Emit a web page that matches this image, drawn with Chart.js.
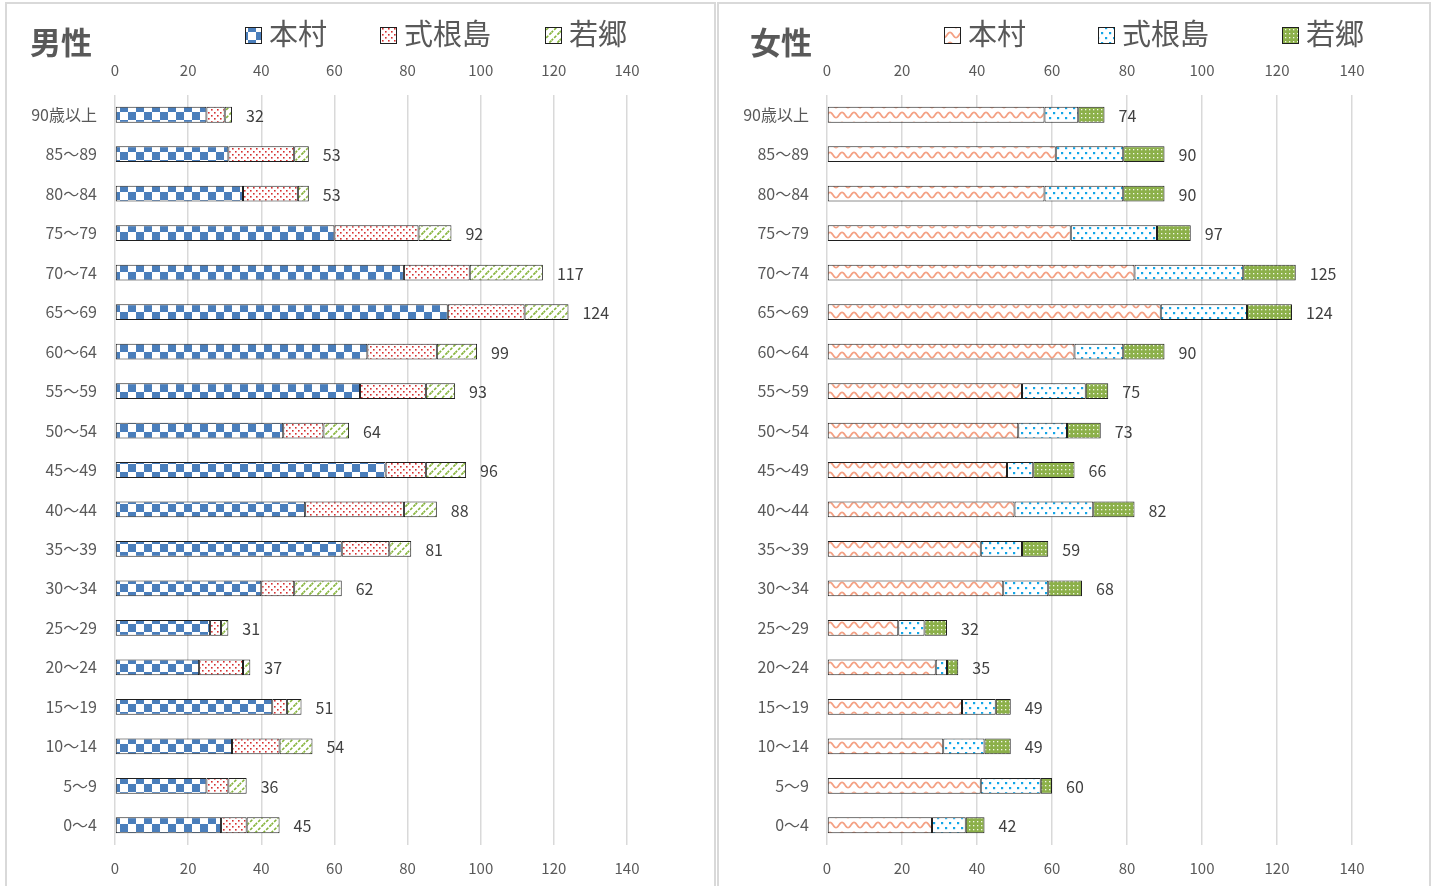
<!DOCTYPE html>
<html><head><meta charset="utf-8">
<script src="https://cdn.jsdelivr.net/npm/chart.js@4/dist/chart.umd.min.js"></script>
<style>
html,body{margin:0;padding:0;background:#fff;width:1435px;height:886px;overflow:hidden}
.panel{position:absolute;top:2px;height:900px;border:2px solid #d9d9d9;box-sizing:border-box;background:#fff}
canvas{position:absolute;top:0}
</style></head><body>
<div class="panel" style="left:5px;width:711px"></div>
<div class="panel" style="left:717px;width:714px"></div>
<canvas id="male" width="716" height="886" style="left:0"></canvas>
<canvas id="female" width="719" height="886" style="left:716px"></canvas>
<script>
// ---- data ----
const categories = ['90歳以上','85～89','80～84','75～79','70～74','65～69','60～64','55～59','50～54','45～49','40～44','35～39','30～34','25～29','20～24','15～19','10～14','5～9','0～4'];
const seriesNames = ['本村','式根島','若郷'];
const xTicks = [0,20,40,60,80,100,120,140];

const maleHonson   = [25,31,35,60,79,91,69,67,46,74,52,62,40,26,23,43,32,25,29];
const maleShikine  = [5,18,15,23,18,21,19,18,11,11,27,13,9,3,12,4,13,6,7];
const maleWakago   = [2,4,3,9,20,12,11,8,7,11,9,6,13,2,2,4,9,5,9];
const maleTotals   = [32,53,53,92,117,124,99,93,64,96,88,81,62,31,37,51,54,36,45];

const femaleHonson  = [58,61,58,65,82,89,66,52,51,48,50,41,47,19,29,36,31,41,28];
const femaleShikine = [9,18,21,23,29,23,13,17,13,7,21,11,12,7,3,9,11,16,9];
const femaleWakago  = [7,11,11,9,14,12,11,6,9,11,11,7,9,6,3,4,7,3,5];
const femaleTotals  = [74,90,90,97,125,124,90,75,73,66,82,59,68,32,35,49,49,60,42];

// ---- patterns ----
function tile(w,h,draw){
  const c=document.createElement('canvas');c.width=w;c.height=h;
  const g=c.getContext('2d');draw(g,w,h);
  return document.getElementById('male').getContext('2d').createPattern(c,'repeat');
}
const pCheck = tile(16,16,(g)=>{g.fillStyle='#fff';g.fillRect(0,0,16,16);g.fillStyle='#4a7ebb';g.fillRect(0,0,8,8);g.fillRect(8,8,8,8);});
const pRedDots = tile(6,6,(g)=>{g.fillStyle='#fff';g.fillRect(0,0,6,6);g.fillStyle='#d63030';g.fillRect(1,1,1.6,1.6);g.fillRect(4,4,1.6,1.6);});
const pDiag = tile(8,8,(g)=>{g.fillStyle='#fff';g.fillRect(0,0,8,8);g.strokeStyle='#86b43c';g.lineWidth=1.6;g.setLineDash([3,1.5]);
  g.beginPath();g.moveTo(-1,9);g.lineTo(9,-1);g.stroke();g.beginPath();g.moveTo(-1,1);g.lineTo(1,-1);g.stroke();g.beginPath();g.moveTo(7,9);g.lineTo(9,7);g.stroke();});
const pWave = tile(12,10,(g)=>{g.fillStyle='#fff';g.fillRect(0,0,12,10);g.strokeStyle='#f4a184';g.lineWidth=1.8;g.beginPath();
  for(let x=-1;x<=13;x+=0.5){const y=5+2.6*Math.cos(2*Math.PI*x/12);if(x===-1)g.moveTo(x,y);else g.lineTo(x,y);}g.stroke();});
const pCyanDots = tile(8,10,(g)=>{g.fillStyle='#fff';g.fillRect(0,0,8,10);g.fillStyle='#13a6e8';g.fillRect(1,2,2.2,2.2);g.fillRect(5,7,2.2,2.2);});
const pGreenGrid = tile(4,4,(g)=>{g.fillStyle='#8cb04a';g.fillRect(0,0,4,4);g.fillStyle='#f4f8ea';g.fillRect(1,1,1.3,1.3);});

const FONT='"Noto Sans CJK JP","Noto Sans",sans-serif';

function makeChart(id, title, data, totals, fills, layoutCfg){
  const datasets = data.map((d,i)=>({
    label: seriesNames[i], data: d, backgroundColor: fills[i],
    borderColor:'#1f1f1f', borderWidth:1, borderSkipped:false,
    categoryPercentage:1.0, barPercentage:0.4
  }));
  const overlay = {
    id:'overlay',
    afterDatasetsDraw(chart){
      const ctx=chart.ctx; const last=chart.getDatasetMeta(datasets.length-1);
      ctx.save(); ctx.fillStyle='#404040'; ctx.font='16px '+FONT; ctx.textBaseline='middle'; ctx.textAlign='left';
      last.data.forEach((el,i)=>{ ctx.fillText(String(totals[i]), el.x+14, el.y+1); });
      ctx.restore();
    },
    afterDraw(chart){
      const ctx=chart.ctx; ctx.save();
      ctx.fillStyle='#595959'; ctx.font='bold 31px '+FONT; ctx.textBaseline='middle'; ctx.textAlign='left';
      ctx.fillText(title, layoutCfg.titleX, 42);
      ctx.font='29px '+FONT;
      layoutCfg.legendX.forEach((x,i)=>{
        ctx.fillStyle=fills[i]; ctx.fillRect(x,27,16,16);
        ctx.strokeStyle='#1f1f1f'; ctx.lineWidth=1; ctx.strokeRect(x+0.5,27.5,16,16);
        ctx.fillStyle='#595959'; ctx.fillText(seriesNames[i], x+24, 34);
      });
      ctx.restore();
    }
  };
  const tickFont={size:15,family:FONT};
  return new Chart(document.getElementById(id),{
    type:'bar',
    data:{labels:categories, datasets},
    options:{
      indexAxis:'y', responsive:false, animation:false,
      layout:{padding:{top:50,left:0,right:layoutCfg.rightPad,bottom:0}},
      plugins:{legend:{display:false},title:{display:false},tooltip:{enabled:false}},
      scales:{
        x:{position:'top',stacked:true,min:0,max:140,
          afterBuildTicks:s=>{s.ticks=xTicks.map(v=>({value:v}));},
          ticks:{padding:16,color:'#595959',font:tickFont},
          grid:{color:'#d9d9d9',lineWidth:1.5,drawTicks:false},border:{display:false},
          afterFit:s=>{s.height=45;}},
        x2:{axis:'x',position:'bottom',min:0,max:140,
          afterBuildTicks:s=>{s.ticks=xTicks.map(v=>({value:v}));},
          ticks:{padding:14,color:'#595959',font:tickFont},
          grid:{display:false,drawTicks:false},border:{display:false},
          afterFit:s=>{s.height=41;}},
        y:{stacked:true,
          ticks:{padding:18,color:'#595959',font:{size:16,family:FONT}},
          grid:{display:false,drawTicks:false},border:{display:false},
          afterFit:s=>{s.width=layoutCfg.yWidth;}}
      }
    },
    plugins:[overlay]
  });
}

makeChart('male','男性',[maleHonson,maleShikine,maleWakago],maleTotals,[pCheck,pRedDots,pDiag],
  {titleX:30,legendX:[245,380,545],rightPad:89,yWidth:115});
makeChart('female','女性',[femaleHonson,femaleShikine,femaleWakago],femaleTotals,[pWave,pCyanDots,pGreenGrid],
  {titleX:34,legendX:[228,382,566],rightPad:83,yWidth:111});
</script>
</body></html>
